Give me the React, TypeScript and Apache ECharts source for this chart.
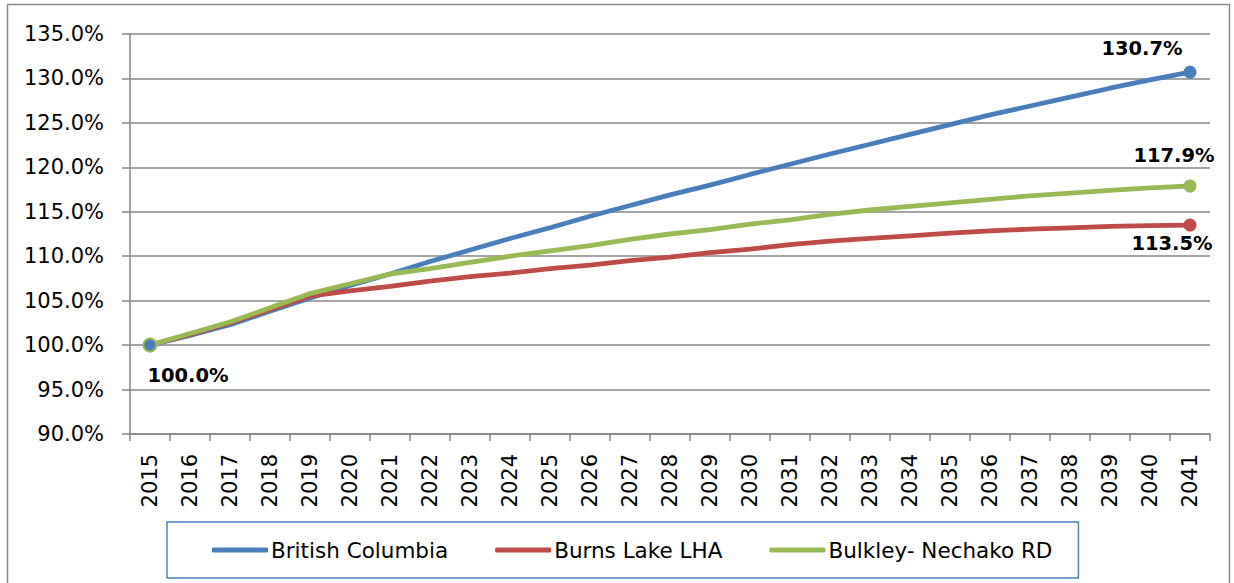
import React, { useEffect, useRef } from "react";
import * as echarts from "echarts";

const years = [
  "2015", "2016", "2017", "2018", "2019", "2020", "2021", "2022", "2023",
  "2024", "2025", "2026", "2027", "2028", "2029", "2030", "2031", "2032",
  "2033", "2034", "2035", "2036", "2037", "2038", "2039", "2040", "2041",
];

const britishColumbia = [
  100.0, 101.1, 102.3, 103.8, 105.3, 106.7, 108.0, 109.4, 110.7,
  112.0, 113.2, 114.5, 115.7, 116.9, 118.0, 119.2, 120.35, 121.5,
  122.6, 123.7, 124.8, 125.9, 126.9, 127.9, 128.9, 129.85, 130.7,
];

const burnsLake = [
  100.0, 101.2, 102.5, 104.0, 105.5, 106.1, 106.6, 107.2, 107.7,
  108.1, 108.6, 109.0, 109.5, 109.9, 110.4, 110.8, 111.3, 111.7,
  112.0, 112.3, 112.6, 112.85, 113.05, 113.2, 113.35, 113.45, 113.5,
];

const bulkleyNechako = [
  100.0, 101.3, 102.6, 104.2, 105.8, 106.9, 108.0, 108.6, 109.3,
  110.0, 110.6, 111.2, 111.9, 112.5, 113.0, 113.6, 114.1, 114.7,
  115.2, 115.6, 116.0, 116.4, 116.8, 117.1, 117.4, 117.7, 117.9,
];

const seriesNames = ["British Columbia", "Burns Lake LHA", "Bulkley- Nechako RD"];
const colors = ["#4A7EBB", "#BE4B48", "#98B954"];

const FONT = "DejaVu Sans";

type LabelSpec = { index: number; offset: [number, number] };

function buildData(
  values: number[],
  labels: LabelSpec[],
  firstStyle?: Record<string, unknown>
) {
  return values.map((v, i) => {
    const spec = labels.find((l) => l.index === i);
    const item: Record<string, unknown> = { value: v };
    if (spec) {
      item.label = {
        show: true,
        position: "inside",
        offset: spec.offset,
        formatter: (p: { value: number }) => p.value.toFixed(1) + "%",
        fontFamily: FONT,
        fontWeight: "bold",
        fontSize: 19.5,
        color: "#000",
      };
    }
    if (i === 0 && firstStyle) item.itemStyle = firstStyle;
    return item;
  });
}

export default function App() {
  const ref = useRef<HTMLDivElement>(null);

  useEffect(() => {
    if (!ref.current) return;
    const chart = echarts.init(ref.current, undefined, { renderer: "svg" });
    const last = years.length - 1;
    const endSize = (_v: unknown, p: { dataIndex: number }) =>
      p.dataIndex === last || p.dataIndex === 0 ? 13 : 0;

    const makeSeries = (
      name: string,
      color: string,
      data: unknown[]
    ) => ({
      name,
      type: "line",
      data,
      symbol: "circle",
      symbolSize: endSize,
      showAllSymbol: true,
      lineStyle: { color, width: 4.8 },
      itemStyle: { color },
      emphasis: { disabled: true },
    });

    chart.setOption({
      animation: false,
      color: colors,
      textStyle: { fontFamily: FONT },
      grid: { left: 130, right: 24, top: 34, bottom: 149 },
      graphic: [
        {
          type: "rect",
          shape: { x: 7.5, y: 4.5, width: 1222, height: 620 },
          style: { fill: "none", stroke: "#8a8a8a", lineWidth: 1.5 },
          silent: true,
          z: -1,
        },
      ],
      legend: {
        left: 167,
        top: 522,
        padding: [17, 26, 17, 45],
        borderColor: "#4F81BD",
        borderWidth: 1.5,
        icon: "roundRect",
        itemWidth: 56,
        itemHeight: 5,
        itemGap: 47,
        textStyle: { fontFamily: FONT, fontSize: 21.5, color: "#000", padding: [0, 0, 0, -2] },
        data: seriesNames,
      },
      xAxis: {
        type: "category",
        data: years,
        boundaryGap: true,
        axisLine: { lineStyle: { color: "#868686", width: 1.5 } },
        axisTick: { show: true, length: 7, lineStyle: { color: "#868686", width: 1.5 } },
        axisLabel: {
          rotate: 90,
          interval: 0,
          margin: 20,
          fontFamily: FONT,
          fontSize: 21,
          color: "#000",
        },
      },
      yAxis: {
        type: "value",
        min: 90,
        max: 135,
        interval: 5,
        axisLine: { show: true, lineStyle: { color: "#868686", width: 1.5 } },
        axisTick: { show: true, length: 8, lineStyle: { color: "#868686", width: 1.5 } },
        splitLine: { lineStyle: { color: "#868686", width: 1.5 } },
        axisLabel: {
          margin: 26,
          fontFamily: FONT,
          fontSize: 21,
          color: "#000",
          formatter: (v: number) => v.toFixed(1) + "%",
        },
      },
      series: [
        makeSeries(
          seriesNames[0],
          colors[0],
          buildData(britishColumbia, [{ index: last, offset: [-48, -24] }])
        ),
        makeSeries(
          seriesNames[1],
          colors[1],
          buildData(burnsLake, [{ index: last, offset: [-18, 18] }])
        ),
        makeSeries(
          seriesNames[2],
          colors[2],
          buildData(
            bulkleyNechako,
            [
              { index: 0, offset: [38, 30] },
              { index: last, offset: [-16, -31] },
            ],
            { color: colors[0], borderColor: colors[2], borderWidth: 2 }
          )
        ),
      ],
    });

    return () => chart.dispose();
  }, []);

  return (
    <div
      ref={ref}
      style={{ position: "fixed", left: 0, top: 0, width: 1234, height: 583, background: "#fff" }}
    />
  );
}
